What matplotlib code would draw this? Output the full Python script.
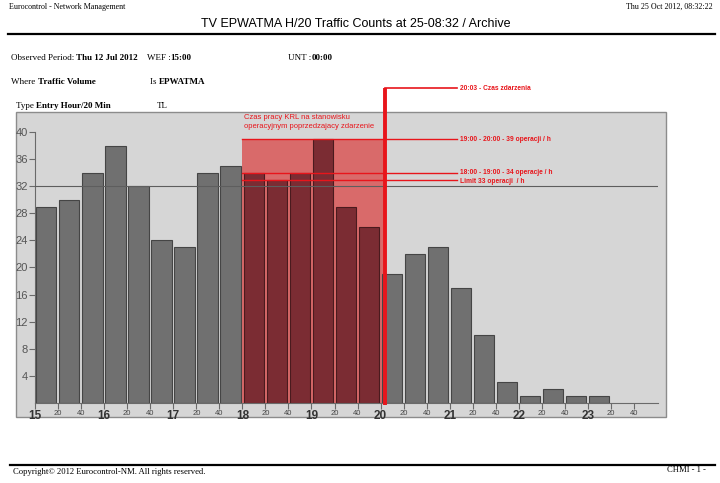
import matplotlib.pyplot as plt
import numpy as np
from matplotlib.patches import Rectangle
from matplotlib.text import Annotation

# dane z wykresu (liczba operacji na 20 min, od 15:00 do 23:00)
slot_labels = ['15', '20', '40', '16', '20', '40', '17', '20', '40', '18', '20', '40',
               '19', '20', '40', '20', '20', '40', '21', '20', '40', '22', '20', '40',
               '23', '20', '40']
counts = [29, 30, 34, 38, 32, 24, 23, 34, 35, 34, 33, 34, 39, 29, 26,
          19, 22, 23, 17, 10, 3, 1, 2, 1, 1]
threshold = 32
limit = 33
rate_18_19 = 34
rate_19_20 = 39
shift_start = 9          # 18:00 w slotach 20-minutowych od 15:00
event_slot = 15.2        # 20:03
y_ticks = list(range(4, 44, 4))

W, H = 720, 483


def fx(px):
    return px / W


def fy(py):
    return 1 - py / H


fig = plt.figure(figsize=(7.2, 4.83), dpi=100)
fig.patch.set_facecolor('white')

serif = ['Liberation Serif', 'DejaVu Serif']
sans = ['Liberation Sans', 'DejaVu Sans']

# naglowek
fig.text(fx(9), fy(7), 'Eurocontrol - Network Management', family=serif, fontsize=5.8, va='center')
fig.text(fx(713), fy(7), 'Thu 25 Oct 2012, 08:32:22', family=serif, fontsize=5.8, va='center', ha='right')
fig.text(fx(356), fy(24), 'TV EPWATMA H/20 Traffic Counts at 25-08:32 / Archive', family=sans,
         fontsize=9, va='center', ha='center')
fig.add_artist(plt.Line2D([fx(8), fx(715)], [fy(34), fy(34)], color='black', lw=1.6))


def label_pair(x, y, a, b, size=6.5):
    t = fig.text(fx(x), fy(y), a, family=serif, fontsize=size, va='baseline')
    fig.add_artist(Annotation(b, xy=(1, 0), xycoords=t, va='bottom', ha='left', family=serif,
                              fontsize=size, fontweight='bold'))


label_pair(11, 60, 'Observed Period: ', 'Thu 12 Jul 2012')
label_pair(147, 60, 'WEF :', '15:00')
label_pair(288, 60, 'UNT :', '00:00')
label_pair(11, 84, 'Where ', 'Traffic Volume')
label_pair(150, 84, 'Is ', 'EPWATMA')
label_pair(16, 108, 'Type ', 'Entry Hour/20 Min')
fig.text(fx(157), fy(108), 'TL', family=serif, fontsize=6.5, va='baseline')

# tlo wykresu
fig.patches.append(Rectangle((fx(16), fy(417)), fx(666) - fx(16), fy(112) - fy(417),
                             transform=fig.transFigure, facecolor='#d6d6d6',
                             edgecolor='#8c8c8c', lw=1.0, zorder=-1))

# stopka
fig.add_artist(plt.Line2D([fx(10), fx(715)], [fy(465), fy(465)], color='black', lw=1.6))
fig.text(fx(13), fy(472), 'Copyright\u00a9 2012 Eurocontrol-NM. All rights reserved.', family=serif,
         fontsize=6.2, va='center')
fig.text(fx(706), fy(470), 'CHMI - 1 -', family=serif, fontsize=6.2, va='center', ha='right')

# os wykresu
y0_px, ytop_px = 402.7, 112
px_per_unit = (375.7 - 132.3) / 36
x0_px, x1_px = 35, 658
slot_px = 23.04
ax = fig.add_axes([fx(x0_px), fy(y0_px), fx(x1_px) - fx(x0_px), fy(ytop_px) - fy(y0_px)])
ax.set_facecolor('none')
ax.set_xlim(0, (x1_px - x0_px) / slot_px)
ax.set_ylim(0, (y0_px - ytop_px) / px_per_unit)

# obszar pracy KRL
ax.add_patch(Rectangle((shift_start, 0), event_slot - shift_start, rate_19_20,
                       facecolor='#d96a6a', edgecolor='none', zorder=1))

ind = np.arange(len(counts))
colors = ['#7b2c33' if shift_start <= i < 15 else '#707070' for i in ind]
edges = ['#4a1a1e' if shift_start <= i < 15 else '#454545' for i in ind]
ax.bar(ind + 0.05, counts, 0.88, align='edge', color=colors, edgecolor=edges, lw=0.8, zorder=2)

ax.axhline(threshold, color='#5e5e5e', lw=0.8, zorder=3)

red = '#e8151b'
x_txt_end = (457 - x0_px) / slot_px
x_txt = (460 - x0_px) / slot_px
for val in [rate_19_20, rate_18_19, limit]:
    ax.plot([shift_start, x_txt_end], [val, val], color=red, lw=1.0, zorder=4)
ax.text(x_txt, rate_19_20, '19:00 - 20:00 - 39 operacji / h', color=red, fontsize=4.8,
        fontweight='bold', va='center', family=sans, zorder=5)
ax.text(x_txt, rate_18_19 + 0.1, '18:00 - 19:00 - 34 operacje / h', color=red, fontsize=4.8,
        fontweight='bold', va='center', family=sans, zorder=5)
ax.text(x_txt, limit - 0.3, 'Limit 33 operacji  / h', color=red, fontsize=4.8,
        fontweight='bold', va='center', family=sans, zorder=5)

top_val = (y0_px - 88) / px_per_unit
ax.plot([event_slot, event_slot], [-0.35, top_val], color=red, lw=2.8, zorder=6,
        clip_on=False, solid_capstyle='butt')
ax.plot([event_slot, x_txt_end], [top_val, top_val], color=red, lw=1.2, zorder=6, clip_on=False)
ax.text(x_txt, top_val, '20:03 - Czas zdarzenia', color=red, fontsize=4.8, fontweight='bold',
        va='center', family=sans, clip_on=False)

ax.text(shift_start + 0.05, (y0_px - 114) / px_per_unit,
        'Czas pracy KRL na stanowisku\noperacyjnym poprzedzajacy zdarzenie',
        color=red, fontsize=5.5, va='top', family=sans, linespacing=1.3)

# osie
for s in ['top', 'right']:
    ax.spines[s].set_visible(False)
ax.spines['left'].set_bounds(0, 40)
ax.spines['left'].set_color('#6a6a6a')
ax.spines['bottom'].set_color('#6a6a6a')
ax.set_yticks(y_ticks)
ax.tick_params(axis='y', direction='out', length=4, color='#6a6a6a', labelsize=8,
               labelcolor='#555555', pad=1)
for t in ax.get_yticklabels():
    t.set_family(sans)

ax.set_xticks(np.arange(len(slot_labels)))
ax.set_xticklabels(slot_labels)
ax.tick_params(axis='x', direction='out', length=4, color='#6a6a6a', pad=1)
for i, t in enumerate(ax.get_xticklabels()):
    t.set_family(sans)
    if i % 3 == 0:
        t.set_fontsize(8.5)
        t.set_fontweight('bold')
        t.set_color('#333333')
    else:
        t.set_fontsize(5.5)
        t.set_color('#444444')

fig.savefig('out.png', dpi=100)
